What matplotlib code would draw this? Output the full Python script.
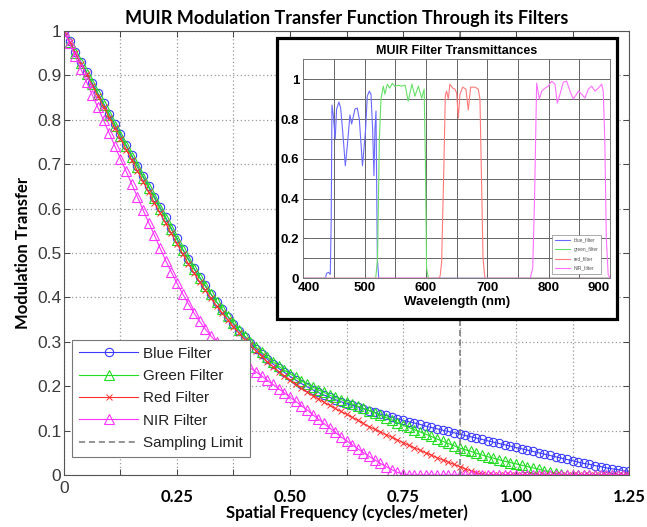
import numpy as np
import matplotlib
matplotlib.use("Agg")
import matplotlib.pyplot as plt
from matplotlib.patches import Rectangle
from matplotlib.transforms import ScaledTranslation

# spatial frequency grid (cycles/meter), 0 .. 1.25
freq = np.linspace(0, 1.25, 101)

mtf_blue = [
    1.000, 0.977, 0.953, 0.930, 0.907, 0.883, 0.860, 0.837, 0.813, 0.790,
    0.767, 0.743, 0.720, 0.697, 0.673, 0.650, 0.627, 0.603, 0.580, 0.556,
    0.533, 0.509, 0.487, 0.466, 0.446, 0.427, 0.408, 0.390, 0.373, 0.356,
    0.340, 0.325, 0.310, 0.297, 0.284, 0.272, 0.261, 0.250, 0.240, 0.231,
    0.222, 0.214, 0.206, 0.199, 0.192, 0.186, 0.180, 0.175, 0.170, 0.165,
    0.161, 0.157, 0.153, 0.149, 0.145, 0.141, 0.137, 0.134, 0.130, 0.127,
    0.123, 0.120, 0.117, 0.114, 0.110, 0.107, 0.104, 0.101, 0.098, 0.095,
    0.092, 0.089, 0.086, 0.083, 0.080, 0.077, 0.074, 0.071, 0.068, 0.065,
    0.062, 0.059, 0.056, 0.053, 0.050, 0.047, 0.044, 0.041, 0.038, 0.035,
    0.032, 0.029, 0.026, 0.024, 0.021, 0.019, 0.016, 0.014, 0.012, 0.010,
    0.008]

mtf_green = [
    1.000, 0.975, 0.951, 0.927, 0.904, 0.880, 0.857, 0.833, 0.810, 0.787,
    0.763, 0.740, 0.717, 0.693, 0.670, 0.647, 0.623, 0.600, 0.577, 0.553,
    0.530, 0.507, 0.485, 0.464, 0.444, 0.425, 0.407, 0.390, 0.373, 0.357,
    0.342, 0.327, 0.313, 0.300, 0.288, 0.276, 0.265, 0.255, 0.245, 0.236,
    0.228, 0.220, 0.212, 0.205, 0.198, 0.192, 0.186, 0.180, 0.175, 0.170,
    0.165, 0.160, 0.155, 0.150, 0.145, 0.140, 0.134, 0.129, 0.124, 0.118,
    0.112, 0.107, 0.102, 0.097, 0.092, 0.087, 0.081, 0.076, 0.071, 0.066,
    0.061, 0.057, 0.053, 0.049, 0.045, 0.041, 0.038, 0.034, 0.031, 0.028,
    0.025, 0.022, 0.019, 0.016, 0.013, 0.010, 0.007, 0.004, 0.002, 0.001,
    0.000, 0.000, 0.000, 0.000, 0.000, 0.000, 0.000, 0.000, 0.000, 0.000,
    0.000]

mtf_red = [
    1.000, 0.975, 0.950, 0.926, 0.902, 0.877, 0.853, 0.829, 0.805, 0.781,
    0.757, 0.733, 0.709, 0.685, 0.661, 0.637, 0.613, 0.590, 0.567, 0.544,
    0.521, 0.498, 0.476, 0.455, 0.435, 0.416, 0.398, 0.381, 0.365, 0.349,
    0.334, 0.319, 0.305, 0.292, 0.279, 0.267, 0.255, 0.244, 0.233, 0.223,
    0.213, 0.204, 0.195, 0.187, 0.179, 0.172, 0.164, 0.157, 0.150, 0.143,
    0.137, 0.130, 0.123, 0.116, 0.109, 0.103, 0.097, 0.091, 0.085, 0.079,
    0.073, 0.067, 0.061, 0.056, 0.050, 0.045, 0.039, 0.034, 0.029, 0.024,
    0.019, 0.014, 0.009, 0.005, 0.002, 0.000, 0.000, 0.000, 0.000, 0.000,
    0.000, 0.000, 0.000, 0.000, 0.000, 0.000, 0.000, 0.000, 0.000, 0.000,
    0.000, 0.000, 0.000, 0.000, 0.000, 0.000, 0.000, 0.000, 0.000, 0.000,
    0.000]

mtf_nir = [
    1.000, 0.972, 0.943, 0.914, 0.885, 0.856, 0.828, 0.799, 0.770, 0.741,
    0.712, 0.684, 0.655, 0.626, 0.597, 0.568, 0.540, 0.511, 0.483, 0.457,
    0.432, 0.408, 0.386, 0.365, 0.346, 0.329, 0.313, 0.299, 0.288, 0.278,
    0.268, 0.259, 0.250, 0.241, 0.232, 0.223, 0.213, 0.204, 0.194, 0.185,
    0.175, 0.166, 0.156, 0.147, 0.136, 0.126, 0.116, 0.106, 0.096, 0.086,
    0.077, 0.068, 0.059, 0.050, 0.042, 0.034, 0.026, 0.019, 0.012, 0.006,
    0.002, 0.000, 0.000, 0.000, 0.000, 0.000, 0.000, 0.000, 0.000, 0.000,
    0.000, 0.000, 0.000, 0.000, 0.000, 0.000, 0.000, 0.000, 0.000, 0.000,
    0.000, 0.000, 0.000, 0.000, 0.000, 0.000, 0.000, 0.000, 0.000, 0.000,
    0.000, 0.000, 0.000, 0.000, 0.000, 0.000, 0.000, 0.000, 0.000, 0.000,
    0.000]

sampling_limit = 0.876

labels = ["Blue Filter", "Green Filter", "Red Filter", "NIR Filter"]
x_ticks = [0, 0.125, 0.25, 0.375, 0.5, 0.625, 0.75, 0.875, 1.0, 1.125, 1.25]
x_ticklabels = ["0", "", "0.25", "", "0.50", "", "0.75", "", "1.00", "", "1.25"]
y_ticks = [0, 0.1, 0.2, 0.3, 0.4, 0.5, 0.6, 0.7, 0.8, 0.9, 1.0]
y_ticklabels = ["0", "0.1", "0.2", "0.3", "0.4", "0.5", "0.6", "0.7", "0.8", "0.9", "1"]

# filter transmittance spectra (inset)
blue_wl = [400, 436, 438, 441, 444, 445.5, 446.7, 448.9, 452, 454.3, 458, 460.9, 465.2,
           468.5, 471.7, 476, 478.8, 484.2, 488, 491.3, 496.5, 501.6, 504.3, 507.6,
           510.3, 513, 515.2, 516.8, 518.5, 520.7, 523, 900]
blue_t = [0, 0, 0.025, 0.03, 0.02, 0.3, 0.87, 0.82, 0.70, 0.85, 0.885, 0.855, 0.70,
          0.565, 0.665, 0.82, 0.775, 0.85, 0.855, 0.80, 0.565, 0.75, 0.915, 0.94,
          0.925, 0.75, 0.515, 0.75, 0.84, 0.1, 0, 0]
green_wl = [400, 518, 521, 524, 526.6, 530.4, 533, 537, 541, 545, 549, 555, 560, 566,
            571, 577, 582, 587.5, 593, 597, 599, 601, 604, 900]
green_t = [0, 0, 0.1, 0.7, 0.90, 0.965, 0.925, 0.975, 0.955, 0.98, 0.965, 0.97, 0.965,
           0.97, 0.89, 0.975, 0.915, 0.965, 0.905, 0.95, 0.6, 0.05, 0, 0]
red_wl = [400, 620, 623, 625.5, 629.3, 631.5, 633.7, 636.4, 639, 643.5, 647.3, 650,
          652.7, 655.4, 659.8, 665.2, 669, 672.8, 679.9, 685.3, 688, 690.5, 693, 696, 900]
red_t = [0, 0, 0.01, 0.08, 0.58, 0.92, 0.94, 0.90, 0.975, 0.955, 0.95, 0.93, 0.805,
         0.925, 0.96, 0.95, 0.845, 0.96, 0.96, 0.95, 0.9, 0.5, 0.1, 0, 0]
nir_wl = [400, 770, 774, 777, 780.4, 784.8, 788.6, 794, 799.5, 804.9, 810.3, 814.1,
          818.5, 823.9, 829.3, 834.8, 840.2, 845.7, 848.4, 853.8, 859.2, 864.7, 870.1,
          875.5, 880.9, 886.4, 889, 891.5, 894, 897, 900]
nir_t = [0, 0, 0.05, 0.4, 0.98, 0.90, 0.94, 0.955, 0.965, 0.99, 0.975, 0.88, 0.925,
         0.985, 0.99, 0.94, 0.90, 0.925, 0.94, 0.925, 0.905, 0.95, 0.965, 0.94, 0.955,
         0.975, 0.94, 0.7, 0.2, 0.02, 0]
filter_names = ["blue_filter", "green_filter", "red_filter", "NIR_filter"]

BOLD_FONT = "Lato"
PLAIN_FONT = "Liberation Sans"

fig = plt.figure(figsize=(6.47, 5.27), dpi=100)
ax = fig.add_axes([0.0989, 0.0987, 0.8733, 0.8425])

# main MTF curves
ax.plot(freq, mtf_blue, color="#3a3aff", lw=0.8, marker="o", ms=6, mfc="none", mew=0.8, label=labels[0])
ax.plot(freq, mtf_green, color="#22dd22", lw=0.8, marker="^", ms=6.5, mfc="none", mew=0.8, label=labels[1])
ax.plot(freq, mtf_red, color="#ff3030", lw=0.8, marker="x", ms=4, mew=0.7, label=labels[2])
ax.plot(freq, mtf_nir, color="#ff33ff", lw=0.8, marker="^", ms=6.5, mfc="none", mew=0.8, label=labels[3])
ax.axvline(sampling_limit, color="#777777", lw=1.1, dashes=(4, 2.5), label="Sampling Limit")

ax.set_xlim(0, 1.25)
ax.set_ylim(0, 1)
ax.set_xticks(x_ticks)
ax.set_xticklabels(x_ticklabels, fontfamily=BOLD_FONT, fontweight="bold", fontsize=12)
ax.set_yticks(y_ticks)
ax.set_yticklabels(y_ticklabels, fontfamily=PLAIN_FONT, fontsize=12.5, color="#3a3a3a")
ax.tick_params(axis="both", direction="in", length=4, width=0.7, color="#444444",
               top=True, right=True)
ax.tick_params(axis="x", pad=10)
ax.tick_params(axis="y", pad=2)

# the origin "0" is in the plain font and sits a bit higher
zero_lbl = ax.get_xticklabels()[0]
zero_lbl.set_fontfamily(PLAIN_FONT)
zero_lbl.set_fontweight("normal")
zero_lbl.set_fontsize(12.5)
zero_lbl.set_color("#3a3a3a")
zero_lbl.set_transform(zero_lbl.get_transform() + ScaledTranslation(0, 6 / 72, fig.dpi_scale_trans))

ax.grid(True, color="#9a9a9a", lw=0.9, linestyle=(0, (1, 2)))
for sp in ax.spines.values():
    sp.set_color("#555555")
    sp.set_linewidth(0.8)

ax.set_title("MUIR Modulation Transfer Function Through its Filters", fontfamily=BOLD_FONT,
             fontweight="bold", fontsize=13, pad=5)
ax.set_xlabel("Spatial Frequency (cycles/meter)", fontfamily=BOLD_FONT, fontweight="bold",
              fontsize=12, labelpad=0)
ax.set_ylabel("Modulation Transfer", fontfamily=BOLD_FONT, fontweight="bold", fontsize=12,
              labelpad=4)

leg = ax.legend(loc="lower left", bbox_to_anchor=(0.006, 0.03), prop={"family": PLAIN_FONT, "size": 11},
                handlelength=3.9, handletextpad=0.3, labelspacing=0.55, borderpad=0.45,
                borderaxespad=0.3, fancybox=False, framealpha=1, edgecolor="#777777")
leg.get_frame().set_linewidth(0.8)
for t in leg.get_texts():
    t.set_color("#222222")

# inset: black frame, then the transmittance axes
frame = Rectangle((0.4281, 0.3947), 0.5255, 0.5332, transform=fig.transFigure,
                  facecolor="white", edgecolor="black", lw=2.3, zorder=5)
fig.patches.append(frame)

axi = fig.add_axes([0.4688, 0.4719, 0.4740, 0.4156], zorder=6)
axi.plot(blue_wl, blue_t, color="#6a6aff", lw=0.8, label=filter_names[0])
axi.plot(green_wl, green_t, color="#66e066", lw=0.8, label=filter_names[1])
axi.plot(red_wl, red_t, color="#ff7a7a", lw=0.8, label=filter_names[2])
axi.plot(nir_wl, nir_t, color="#ff70ff", lw=0.8, label=filter_names[3])
axi.set_xlim(400, 900)
axi.set_ylim(0, 1.1)
axi.set_xticks([400, 500, 600, 700, 800, 900])
axi.set_xticks([450, 550, 650, 750, 850], minor=True)
axi.set_yticks([0, 0.2, 0.4, 0.6, 0.8, 1.0])
axi.set_yticklabels(["0", "0.2", "0.4", "0.6", "0.8", "1"])
axi.set_yticks([0.1, 0.3, 0.5, 0.7, 0.9], minor=True)
axi.grid(True, which="both", color="#666666", lw=0.7)
axi.tick_params(axis="both", which="both", direction="in", length=2.5, width=0.6,
                color="#555555", labelsize=9.5, pad=3)
for lbl in axi.get_xticklabels() + axi.get_yticklabels():
    lbl.set_fontfamily(PLAIN_FONT)
    lbl.set_fontweight("bold")
# end labels of the wavelength axis are pulled inwards
xl = axi.get_xticklabels()
xl[0].set_transform(xl[0].get_transform() + ScaledTranslation(6 / 100, 0, fig.dpi_scale_trans))
xl[-1].set_transform(xl[-1].get_transform() + ScaledTranslation(-11 / 100, 0, fig.dpi_scale_trans))
for sp in axi.spines.values():
    sp.set_color("#777777")
    sp.set_linewidth(0.7)
axi.set_title("MUIR Filter Transmittances", fontfamily=PLAIN_FONT, fontweight="bold",
              fontsize=9, pad=4)
axi.set_xlabel("Wavelength (nm)", fontfamily=PLAIN_FONT, fontweight="bold", fontsize=9.5, labelpad=1)
lg2 = axi.legend(loc="lower right", bbox_to_anchor=(0.98, 0.01), prop={"family": PLAIN_FONT, "size": 3.5},
                 handlelength=3, fancybox=False, framealpha=1, edgecolor="#888888",
                 borderpad=0.6, labelspacing=0.9)
lg2.get_frame().set_linewidth(0.5)
for t in lg2.get_texts():
    t.set_color("#555555")

fig.savefig("out.png", dpi=100)
